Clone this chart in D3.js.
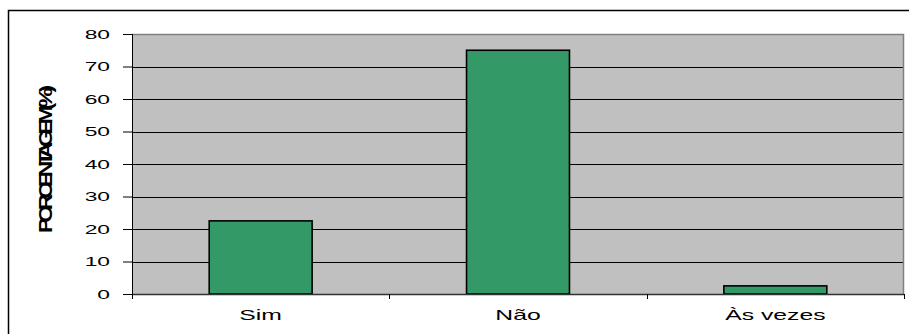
<!DOCTYPE html>
<html>
<head>
<meta charset="utf-8">
<script src="https://cdn.jsdelivr.net/npm/d3@7"></script>
<style>
  html, body { margin: 0; padding: 0; background: #fff; }
  svg { display: block; }
  text { font-family: "Liberation Sans", Arial, sans-serif; fill: #000; }
</style>
</head>
<body>
<svg id="chart" width="909" height="334"></svg>
<script>
// Survey answers and their share of responses (%)
const categories = ["Sim", "Não", "Às vezes"];
const percentages = [22.5, 75, 2.5];
const yTicks = [0, 10, 20, 30, 40, 50, 60, 70, 80];
const yTitle = "PORCENTAGEM(%)";

const svg = d3.select("#chart");
const plot = { left: 132, right: 904, top: 34, bottom: 294 };

const x = d3.scaleBand()
  .domain(categories)
  .range([plot.left, plot.right])
  .paddingInner(0.6)
  .paddingOuter(0.3);

const y = d3.scaleLinear().domain([0, 80]).range([plot.bottom, plot.top]);

// Outer frame
svg.append("rect")
  .attr("x", 8.5).attr("y", 10.5)
  .attr("width", 920).attr("height", 340)
  .attr("fill", "none").attr("stroke", "#000").attr("stroke-width", 1.5);

// Plot background
svg.append("rect")
  .attr("x", plot.left).attr("y", plot.top)
  .attr("width", plot.right - plot.left).attr("height", plot.bottom - plot.top)
  .attr("fill", "#c0c0c0");

// Horizontal gridlines
svg.append("g").selectAll("line")
  .data(yTicks.filter(d => d > 0 && d < 80))
  .join("line")
  .attr("x1", plot.left).attr("x2", plot.right)
  .attr("y1", d => Math.round(y(d)) + 0.5).attr("y2", d => Math.round(y(d)) + 0.5)
  .attr("stroke", "#000").attr("stroke-width", 1);

// Plot border (top and right in gray)
svg.append("path")
  .attr("d", `M${plot.left},${plot.top + 0.5}H${plot.right - 0.5}V${plot.bottom}`)
  .attr("fill", "none").attr("stroke", "#808080").attr("stroke-width", 1.5);

// Bars
svg.append("g").selectAll("rect")
  .data(categories.map((c, i) => ({ c, v: percentages[i] })))
  .join("rect")
  .attr("x", d => x(d.c))
  .attr("y", d => y(d.v))
  .attr("width", x.bandwidth())
  .attr("height", d => y(0) - y(d.v))
  .attr("fill", "#339966")
  .attr("stroke", "#000").attr("stroke-width", 1.6);

// Y axis
const yAxis = svg.append("g")
  .attr("transform", `translate(${plot.left},0)`)
  .call(d3.axisLeft(y).tickValues(yTicks).tickSize(9).tickSizeOuter(0).tickPadding(0));
yAxis.select(".domain").attr("stroke", "#000").attr("d", `M0.5,${plot.top}V${plot.bottom + 4}`);
yAxis.selectAll(".tick line").attr("stroke", "#000");
yAxis.selectAll(".tick text")
  .attr("font-size", 12)
  .attr("text-anchor", "end")
  .attr("x", 0)
  .attr("dy", "0.36em")
  .attr("transform", "translate(-22,0) scale(1.9,1)")
  .attr("font-family", "'Liberation Sans', Arial, sans-serif")
  .attr("fill", "#000");

// X axis line and boundary ticks
const xAxis = svg.append("g");
xAxis.append("line")
  .attr("x1", plot.left).attr("x2", plot.right)
  .attr("y1", plot.bottom + 0.5).attr("y2", plot.bottom + 0.5)
  .attr("stroke", "#333").attr("stroke-width", 1.5);
xAxis.selectAll("line.b")
  .data(d3.range(categories.length + 1))
  .join("line").attr("class", "b")
  .attr("x1", i => Math.round(plot.left + i * (plot.right - plot.left) / categories.length) + 0.5)
  .attr("x2", i => Math.round(plot.left + i * (plot.right - plot.left) / categories.length) + 0.5)
  .attr("y1", plot.bottom).attr("y2", plot.bottom + 5)
  .attr("stroke", "#000");

// Category labels
xAxis.selectAll("text")
  .data(categories)
  .join("text")
  .attr("transform", d => `translate(${x(d) + x.bandwidth() / 2},320) scale(1.65,1)`)
  .attr("text-anchor", "middle")
  .attr("font-size", 15)
  .text(d => d);

// Y axis title
svg.append("text")
  .attr("transform", "translate(52,161.5) rotate(-90)")
  .attr("text-anchor", "middle")
  .attr("font-size", 18)
  .attr("font-weight", "bold")
  .attr("letter-spacing", -4)
  .attr("textLength", 143)
  .attr("lengthAdjust", "spacingAndGlyphs")
  .text(yTitle);
</script>
</body>
</html>
